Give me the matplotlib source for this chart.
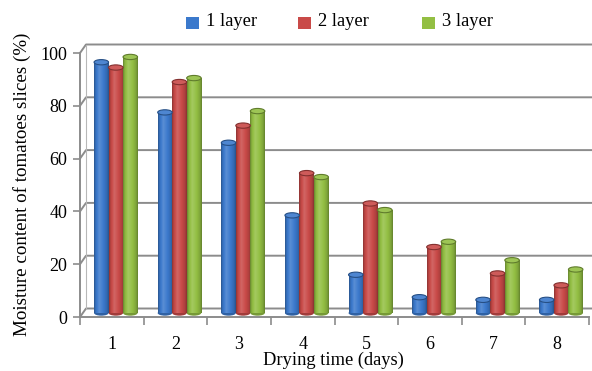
import numpy as np
import matplotlib
matplotlib.use("Agg")
import matplotlib.pyplot as plt
from matplotlib.patches import Ellipse, Rectangle
import matplotlib.colors as mcolors

# Moisture content (%) per drying day for each number of layers
days = [1, 2, 3, 4, 5, 6, 7, 8]
series_names = ["1 layer", "2 layer", "3 layer"]
layer1 = [96, 77, 65.5, 38, 15.5, 7, 6, 6]
layer2 = [94, 88.5, 72, 54, 42.5, 26, 16, 11.5]
layer3 = [98, 90, 77.5, 52.5, 40, 28, 21, 17.5]
y_ticks = [0, 20, 40, 60, 80, 100]

series = [layer1, layer2, layer3]
colors = ["#3b79cc", "#c94a48", "#93bf43"]

plt.rcParams["font.family"] = ["Liberation Serif", "DejaVu Serif"]

W, H, DPI = 592, 371, 100
fig = plt.figure(figsize=(W / DPI, H / DPI), dpi=DPI)
fig.patch.set_facecolor("white")

# front frame of the 3-D plot area (pixel geometry converted to fractions)
x0_px, x1_px = 80, 589
y0_px, y1_px = 317, 53
ax = fig.add_axes([x0_px / W, (H - y0_px) / H, (x1_px - x0_px) / W, (y0_px - y1_px) / H])
ax.set_xlim(0.5, 8.5)
ax.set_ylim(0, 100)
ax.set_facecolor("none")

px_x = (x1_px - x0_px) / 8.0          # pixels per category
px_y = (y0_px - y1_px) / 100.0        # pixels per percent
depth_dx = 6 / px_x                   # back wall offset in data units
depth_dy = 8.5 / px_y

grid_col = "#8c8c8c"
# back-wall gridlines with the short diagonal on the side wall
for v in y_ticks:
    xs = [0.5, 0.5 + depth_dx, 8.5 + depth_dx + 0.2]
    ys = [v, v + depth_dy, v + depth_dy]
    ax.plot(xs, ys, color=grid_col, lw=1.4, clip_on=False, zorder=1)
# left wall back edge
ax.plot([0.5 + depth_dx, 0.5 + depth_dx], [depth_dy, 100 + depth_dy],
        color="#b8b8b8", lw=0.8, clip_on=False, zorder=1)

# cylinder-like bars with horizontal shading
bar_w = 14.5 / px_x
shift_x = 4 / px_x
base = 1.5
cap = 1.0
prof_x = [0.0, 0.12, 0.35, 0.65, 0.88, 1.0]
prof_f = [0.7, 0.95, 1.1, 1.0, 0.86, 0.68]
xs_prof = np.linspace(0, 1, 40)
fac = np.interp(xs_prof, prof_x, prof_f)


def shade(rgb, f):
    rgb = np.array(rgb)
    out = np.where(f >= 1, rgb + (1 - rgb) * (f - 1) * 1.6, rgb * f)
    return np.clip(out, 0, 1)


for si, (vals, col) in enumerate(zip(series, colors)):
    rgb = mcolors.to_rgb(col)
    img = np.array([[shade(rgb, f) for f in fac]])
    for d, v in zip(days, vals):
        left = d + shift_x + (si - 1.5) * bar_w
        top = base + v - cap
        ax.imshow(img, extent=[left, left + bar_w, base, top], aspect="auto",
                  interpolation="bilinear", zorder=3, clip_on=False)
        ax.add_patch(Ellipse((left + bar_w / 2, base), bar_w, 2 * cap,
                             facecolor=shade(rgb, 0.8), edgecolor="none", zorder=2.9))
        ax.add_patch(Ellipse((left + bar_w / 2, top), bar_w, 2 * cap,
                             facecolor=shade(rgb, 1.06), edgecolor=shade(rgb, 0.65),
                             lw=0.8, zorder=3.1, clip_on=False))

ax.set_xlim(0.5, 8.5)
ax.set_ylim(0, 100)

# front axes
for s in ["top", "right"]:
    ax.spines[s].set_visible(False)
for s in ["left", "bottom"]:
    ax.spines[s].set_color(grid_col)
    ax.spines[s].set_linewidth(1.4)
ax.set_yticks(y_ticks)
ax.set_xticks(np.arange(0.5, 9.0, 1.0))
ax.set_xticklabels([])
ax.set_xticks(days, minor=True)
ax.set_xticklabels([str(d) for d in days], minor=True)
ax.tick_params(axis="x", which="major", direction="out", length=6, width=1.2, color=grid_col)
ax.tick_params(axis="x", which="minor", length=0, pad=14)
ax.tick_params(axis="y", direction="out", length=5, width=1.2, color=grid_col, pad=4)

for lab in ax.get_xticklabels(minor=True) + ax.get_yticklabels():
    lab.set_fontsize(13)

fig.text(22 / W, (H - 184) / H, "Moisture content of tomatoes slices (%)",
         rotation=90, ha="center", va="center", fontsize=13.7)
fig.text(333 / W, 2 / H, "Drying time (days)", ha="center", va="bottom",
         fontsize=13.3)

# legend across the top
leg_x = [186, 298, 422]
for name, col, lx in zip(series_names, colors, leg_x):
    fig.patches.append(Rectangle((lx / W, (H - 29) / H), 13 / W, 12 / H,
                                 transform=fig.transFigure, facecolor=col,
                                 edgecolor="none"))
    fig.text((lx + 20) / W, (H - 22) / H, name, ha="left", va="center",
             fontsize=13.3)

fig.savefig("out.png", dpi=DPI)
